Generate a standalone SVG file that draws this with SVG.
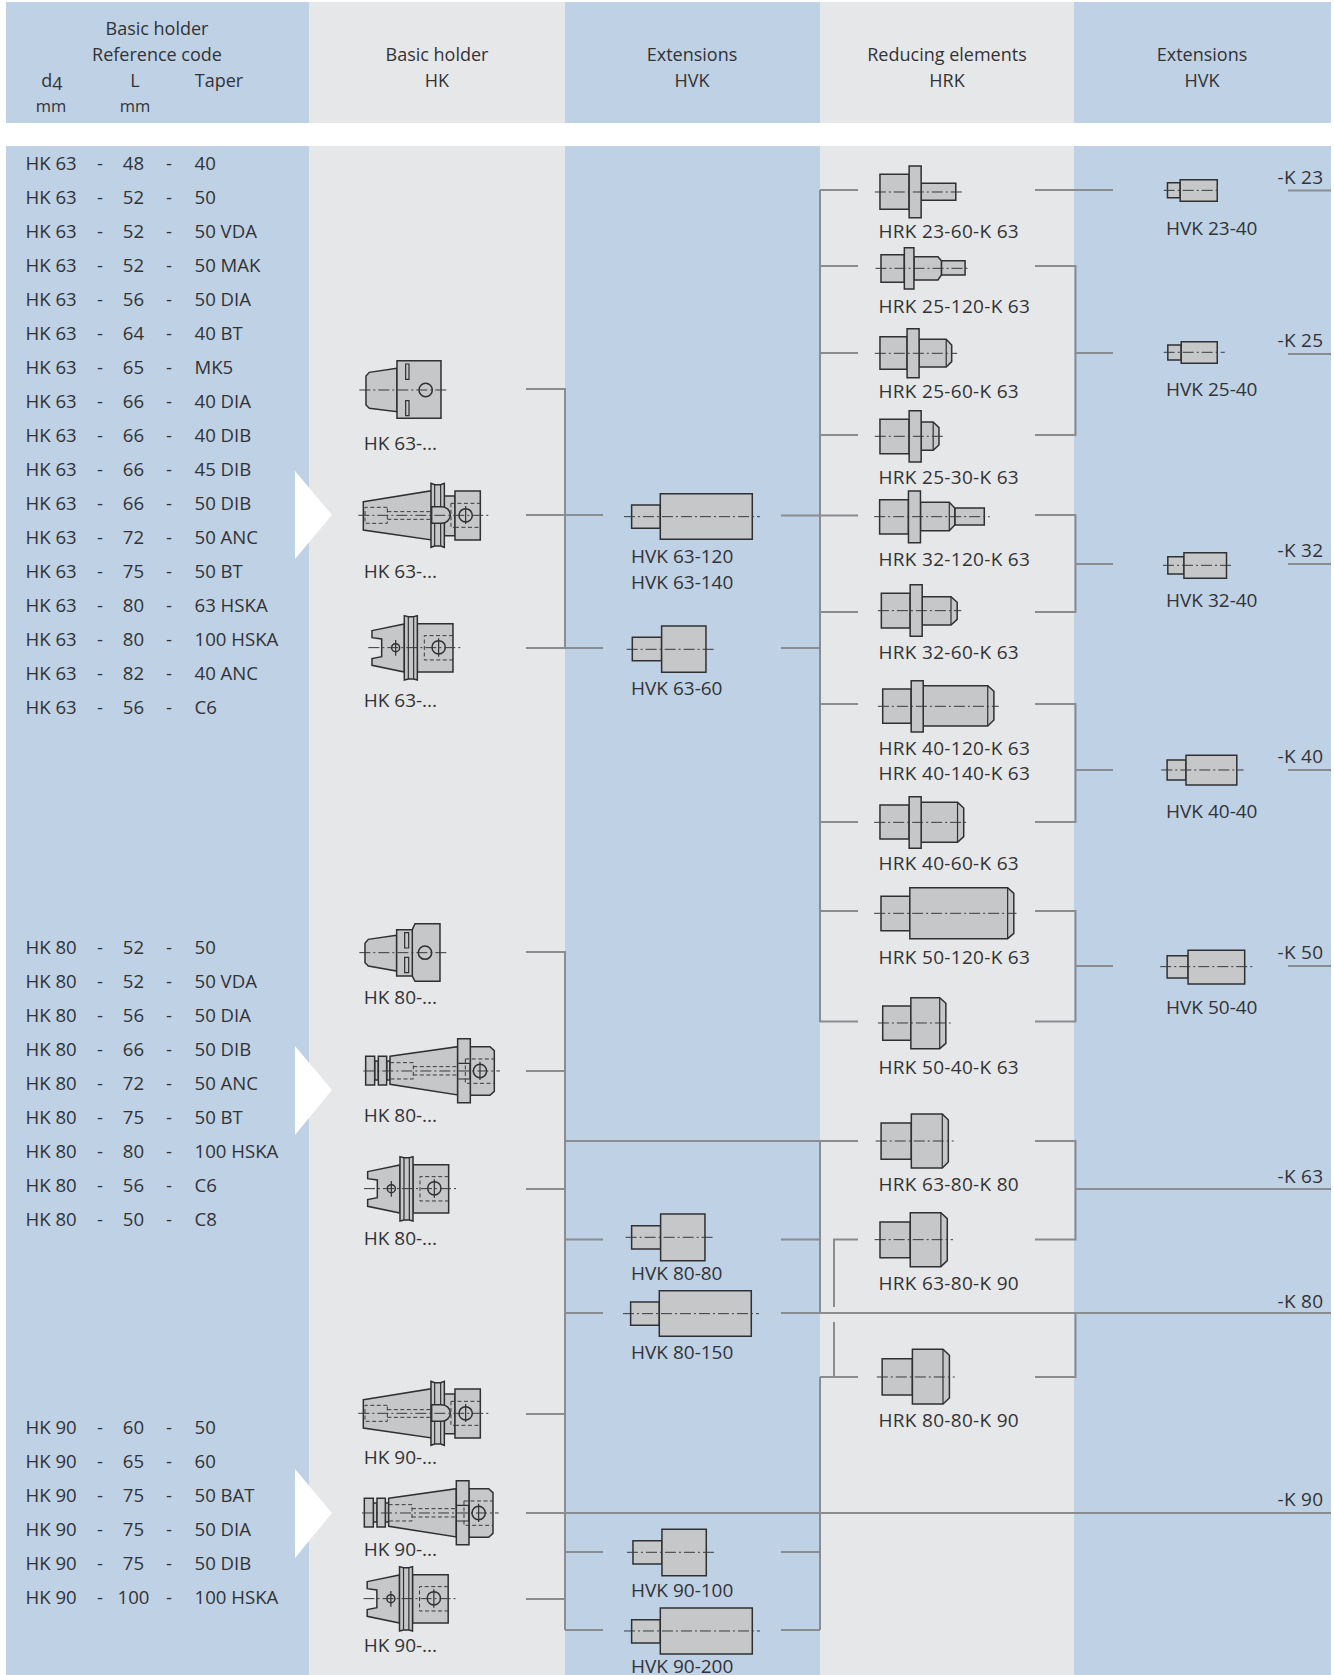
<svg xmlns="http://www.w3.org/2000/svg" xmlns:xlink="http://www.w3.org/1999/xlink" width="1334" height="1675" viewBox="0 0 1334 1675">
<style>
text{font-family:"Open Sans","Noto Sans","Liberation Sans",sans-serif;font-size:19px;fill:#333336}
.h{font-size:18px}
.u{font-size:16.500px}
.t{font-size:18.600px}
.r{letter-spacing:.3px}
.m{text-anchor:middle}
.bl{fill:#bed1e5}.gr{fill:#e6e7e9}
.s{fill:#c6c7c9;stroke:#303033;stroke-width:1.500;vector-effect:non-scaling-stroke;stroke-linejoin:miter}
.l{fill:none;stroke:#303033;stroke-width:1.200;vector-effect:non-scaling-stroke}
.c{fill:none;stroke:#3a3a3d;stroke-width:1;stroke-dasharray:11 3 2 3;vector-effect:non-scaling-stroke}
.d{fill:none;stroke:#3a3a3d;stroke-width:1;stroke-dasharray:4 2.500;vector-effect:non-scaling-stroke}
.w{fill:none;stroke:#8a8c8f;stroke-width:2}
</style>
<defs>
<g id="hk-cat">
<path class="s" d="M250,485L455,452V600L250,570Z"/>
<rect class="s" x="493" y="468" width="32" height="119"/>
<rect class="s" x="525" y="453" width="76" height="147"/>
<path class="s" d="M453,430L464,434H482L493,430V622L482,618H464L453,622Z"/>
<path class="l" d="M464,434V618M482,434V618"/>
<path class="s" d="M455,500H485A26,25 0 0 1 485,550H455Z"/>
<path class="d" d="M322,502H255V550H322ZM322,515H455M322,538H455M513,490H601M513,490V562H525M525,562H601"/>
<circle class="s" cx="557" cy="526" r="20"/>
<path class="l" d="M557,498V552"/>
<path class="c" d="M235,526H628"/>
</g>
<g id="hk-hsk">
<path class="s" d="M276,872L373,852V996L276,976V956L305,950V897L276,893Z"/>
<rect class="s" x="412" y="851" width="107" height="145"/>
<path class="s" d="M373,827L385,830H401L412,827V1020L401,1017H385L373,1020Z"/>
<path class="l" d="M385,830V1017M401,830V1017"/>
<path class="d" d="M519,887H433V960H519"/>
<circle class="s" cx="476" cy="922" r="20"/>
<circle class="s" cx="347" cy="923" r="12"/>
<path class="l" d="M476,895V950M347,900V947"/>
<path class="c" d="M265,923H545"/>
</g>
<g id="hk-din">
<rect class="s" x="284" y="483" width="11" height="57"/>
<rect class="s" x="320" y="483" width="10" height="57"/>
<rect class="s" x="257" y="469" width="27" height="86"/>
<rect class="s" x="295" y="469" width="25" height="86"/>
<path class="s" d="M330,469L533,440V585L330,553Z"/>
<path class="s" d="M571,440H630L643,452V574L630,586H571Z"/>
<rect class="s" x="533" y="416" width="38" height="192"/>
<path class="d" d="M330,488H400V537H330M400,500H533M400,525H533"/>
<path class="l" d="M535,490H570V537H535"/>
<path class="d" d="M556,477H643M556,477V550H643"/>
<circle class="s" cx="600" cy="513" r="20"/>
<path class="l" d="M600,485V540"/>
<path class="c" d="M250,513H660"/>
</g>
</defs>

<g id="background">
<rect class="bl" x="6" y="2" width="303" height="121"/>
<rect class="gr" x="309" y="2" width="256" height="121"/>
<rect class="bl" x="565" y="2" width="255" height="121"/>
<rect class="gr" x="820" y="2" width="254" height="121"/>
<rect class="bl" x="1074" y="2" width="257" height="121"/>
<rect class="bl" x="6" y="146" width="303" height="1529"/>
<rect class="gr" x="309" y="146" width="256" height="1529"/>
<rect class="bl" x="565" y="146" width="255" height="1529"/>
<rect class="gr" x="820" y="146" width="254" height="1529"/>
<rect class="bl" x="1074" y="146" width="257" height="1529"/>
<path fill="#fff" d="M295,471L332,515L295,559ZM295,1046L332,1090L295,1135ZM295,1469L332,1513L295,1558Z"/>
</g>

<g id="headers" class="h">
<text class="h m" x="157" y="35">Basic holder</text>
<text class="h m" x="157" y="61">Reference code</text>
<text class="h m" x="52" y="87">d<tspan dy="3">4</tspan></text>
<text class="h m" x="135" y="87">L</text>
<text class="h m" x="219" y="87">Taper</text>
<text class="u m" x="51" y="112">mm</text>
<text class="u m" x="135" y="112">mm</text>
<text class="h m" x="437" y="61">Basic holder</text>
<text class="h m" x="437" y="87">HK</text>
<text class="h m" x="692" y="61">Extensions</text>
<text class="h m" x="692" y="87">HVK</text>
<text class="h m" x="947" y="61">Reducing elements</text>
<text class="h m" x="947" y="87">HRK</text>
<text class="h m" x="1202" y="61">Extensions</text>
<text class="h m" x="1202" y="87">HVK</text>
</g>

<g id="table">
<text class="t" y="170"><tspan x="25.500">HK 63</tspan><tspan x="97">-</tspan><tspan x="133.500" class="m">48</tspan><tspan x="166">-</tspan><tspan x="194.500">40</tspan></text>
<text class="t" y="204"><tspan x="25.500">HK 63</tspan><tspan x="97">-</tspan><tspan x="133.500" class="m">52</tspan><tspan x="166">-</tspan><tspan x="194.500">50</tspan></text>
<text class="t" y="238"><tspan x="25.500">HK 63</tspan><tspan x="97">-</tspan><tspan x="133.500" class="m">52</tspan><tspan x="166">-</tspan><tspan x="194.500">50 VDA</tspan></text>
<text class="t" y="272"><tspan x="25.500">HK 63</tspan><tspan x="97">-</tspan><tspan x="133.500" class="m">52</tspan><tspan x="166">-</tspan><tspan x="194.500">50 MAK</tspan></text>
<text class="t" y="306"><tspan x="25.500">HK 63</tspan><tspan x="97">-</tspan><tspan x="133.500" class="m">56</tspan><tspan x="166">-</tspan><tspan x="194.500">50 DIA</tspan></text>
<text class="t" y="340"><tspan x="25.500">HK 63</tspan><tspan x="97">-</tspan><tspan x="133.500" class="m">64</tspan><tspan x="166">-</tspan><tspan x="194.500">40 BT</tspan></text>
<text class="t" y="374"><tspan x="25.500">HK 63</tspan><tspan x="97">-</tspan><tspan x="133.500" class="m">65</tspan><tspan x="166">-</tspan><tspan x="194.500">MK5</tspan></text>
<text class="t" y="407.700"><tspan x="25.500">HK 63</tspan><tspan x="97">-</tspan><tspan x="133.500" class="m">66</tspan><tspan x="166">-</tspan><tspan x="194.500">40 DIA</tspan></text>
<text class="t" y="441.700"><tspan x="25.500">HK 63</tspan><tspan x="97">-</tspan><tspan x="133.500" class="m">66</tspan><tspan x="166">-</tspan><tspan x="194.500">40 DIB</tspan></text>
<text class="t" y="475.600"><tspan x="25.500">HK 63</tspan><tspan x="97">-</tspan><tspan x="133.500" class="m">66</tspan><tspan x="166">-</tspan><tspan x="194.500">45 DIB</tspan></text>
<text class="t" y="509.500"><tspan x="25.500">HK 63</tspan><tspan x="97">-</tspan><tspan x="133.500" class="m">66</tspan><tspan x="166">-</tspan><tspan x="194.500">50 DIB</tspan></text>
<text class="t" y="543.500"><tspan x="25.500">HK 63</tspan><tspan x="97">-</tspan><tspan x="133.500" class="m">72</tspan><tspan x="166">-</tspan><tspan x="194.500">50 ANC</tspan></text>
<text class="t" y="577.800"><tspan x="25.500">HK 63</tspan><tspan x="97">-</tspan><tspan x="133.500" class="m">75</tspan><tspan x="166">-</tspan><tspan x="194.500">50 BT</tspan></text>
<text class="t" y="611.800"><tspan x="25.500">HK 63</tspan><tspan x="97">-</tspan><tspan x="133.500" class="m">80</tspan><tspan x="166">-</tspan><tspan x="194.500">63 HSKA</tspan></text>
<text class="t" y="646.300"><tspan x="25.500">HK 63</tspan><tspan x="97">-</tspan><tspan x="133.500" class="m">80</tspan><tspan x="166">-</tspan><tspan x="194.500">100 HSKA</tspan></text>
<text class="t" y="680.300"><tspan x="25.500">HK 63</tspan><tspan x="97">-</tspan><tspan x="133.500" class="m">82</tspan><tspan x="166">-</tspan><tspan x="194.500">40 ANC</tspan></text>
<text class="t" y="714.300"><tspan x="25.500">HK 63</tspan><tspan x="97">-</tspan><tspan x="133.500" class="m">56</tspan><tspan x="166">-</tspan><tspan x="194.500">C6</tspan></text>
<text class="t" y="954"><tspan x="25.500">HK 80</tspan><tspan x="97">-</tspan><tspan x="133.500" class="m">52</tspan><tspan x="166">-</tspan><tspan x="194.500">50</tspan></text>
<text class="t" y="988"><tspan x="25.500">HK 80</tspan><tspan x="97">-</tspan><tspan x="133.500" class="m">52</tspan><tspan x="166">-</tspan><tspan x="194.500">50 VDA</tspan></text>
<text class="t" y="1022"><tspan x="25.500">HK 80</tspan><tspan x="97">-</tspan><tspan x="133.500" class="m">56</tspan><tspan x="166">-</tspan><tspan x="194.500">50 DIA</tspan></text>
<text class="t" y="1055.900"><tspan x="25.500">HK 80</tspan><tspan x="97">-</tspan><tspan x="133.500" class="m">66</tspan><tspan x="166">-</tspan><tspan x="194.500">50 DIB</tspan></text>
<text class="t" y="1089.800"><tspan x="25.500">HK 80</tspan><tspan x="97">-</tspan><tspan x="133.500" class="m">72</tspan><tspan x="166">-</tspan><tspan x="194.500">50 ANC</tspan></text>
<text class="t" y="1123.800"><tspan x="25.500">HK 80</tspan><tspan x="97">-</tspan><tspan x="133.500" class="m">75</tspan><tspan x="166">-</tspan><tspan x="194.500">50 BT</tspan></text>
<text class="t" y="1157.700"><tspan x="25.500">HK 80</tspan><tspan x="97">-</tspan><tspan x="133.500" class="m">80</tspan><tspan x="166">-</tspan><tspan x="194.500">100 HSKA</tspan></text>
<text class="t" y="1191.700"><tspan x="25.500">HK 80</tspan><tspan x="97">-</tspan><tspan x="133.500" class="m">56</tspan><tspan x="166">-</tspan><tspan x="194.500">C6</tspan></text>
<text class="t" y="1225.600"><tspan x="25.500">HK 80</tspan><tspan x="97">-</tspan><tspan x="133.500" class="m">50</tspan><tspan x="166">-</tspan><tspan x="194.500">C8</tspan></text>
<text class="t" y="1434.400"><tspan x="25.500">HK 90</tspan><tspan x="97">-</tspan><tspan x="133.500" class="m">60</tspan><tspan x="166">-</tspan><tspan x="194.500">50</tspan></text>
<text class="t" y="1468.400"><tspan x="25.500">HK 90</tspan><tspan x="97">-</tspan><tspan x="133.500" class="m">65</tspan><tspan x="166">-</tspan><tspan x="194.500">60</tspan></text>
<text class="t" y="1502.300"><tspan x="25.500">HK 90</tspan><tspan x="97">-</tspan><tspan x="133.500" class="m">75</tspan><tspan x="166">-</tspan><tspan x="194.500">50 BAT</tspan></text>
<text class="t" y="1536.300"><tspan x="25.500">HK 90</tspan><tspan x="97">-</tspan><tspan x="133.500" class="m">75</tspan><tspan x="166">-</tspan><tspan x="194.500">50 DIA</tspan></text>
<text class="t" y="1570.200"><tspan x="25.500">HK 90</tspan><tspan x="97">-</tspan><tspan x="133.500" class="m">75</tspan><tspan x="166">-</tspan><tspan x="194.500">50 DIB</tspan></text>
<text class="t" y="1604.200"><tspan x="25.500">HK 90</tspan><tspan x="97">-</tspan><tspan x="133.500" class="m">100</tspan><tspan x="166">-</tspan><tspan x="194.500">100 HSKA</tspan></text>
</g>

<g id="connectors">
<path class="w" d="M526,389H565V648M526,515H603M526,648H603"/>
<path class="w" d="M526,952H565V1630M526,1071H565M526,1189H565M565,1141H858M565,1239.500H603M565,1313H603"/>
<path class="w" d="M526,1414H565M526,1513H1331M526,1599H565M565,1552H603M565,1630H603"/>
<path class="w" d="M781,515.500H858M781,648H820M820,190V1022M820,190H858M820,266H858M820,353H858M820,435H858M820,612H858M820,704H858M820,822H858M820,911H858M820,1021.500H858"/>
<path class="w" d="M781,1239.500H820M820,1141V1313M781,1313H1331M858,1239.500H834V1307M834,1322V1377M820,1377H858M820,1377V1630M781,1552H820M781,1630H820"/>
<path class="w" d="M1035,190H1113M1035,266H1075.500V435H1035M1075.500,353H1113M1035,515H1075.500V612H1035M1075.500,564H1113M1035,704H1075.500V822H1035M1075.500,770H1113M1035,911H1075.500V1021.500H1035M1075.500,966H1113"/>
<path class="w" d="M1035,1141H1075.500V1239.500H1035M1075.500,1189H1331M1075.500,1313V1377H1035"/>
<path class="w" d="M1288,190.500H1331M1288,354H1331M1288,564H1331M1288,770H1331M1288,966H1331"/>
</g>

<g id="k-labels">
<text class="r" x="1277.500" y="183.500">-K 23</text>
<text class="r" x="1277.500" y="347">-K 25</text>
<text class="r" x="1277.500" y="557">-K 32</text>
<text class="r" x="1277.500" y="763">-K 40</text>
<text class="r" x="1277.500" y="959">-K 50</text>
<text class="r" x="1277.500" y="1183">-K 63</text>
<text class="r" x="1277.500" y="1308">-K 80</text>
<text class="r" x="1277.500" y="1506">-K 90</text>
</g>

<g id="hk63a"><g transform="translate(280,340) scale(.3333)">
<path class="s" d="M351,85L268,97L258,108V195L268,205L351,215Z"/>
<rect class="s" x="351" y="62" width="132" height="173"/>
<rect class="l" x="377" y="72" width="10" height="46"/>
<rect class="l" x="377" y="182" width="10" height="45"/>
<circle class="s" cx="437" cy="150" r="20"/>
<path class="c" d="M238,150H503"/></g>
<text x="363.700" y="450">HK 63-...</text></g>

<g id="hk63b"><use href="#hk-cat" transform="translate(280,340) scale(.3333)"/><text x="363.700" y="578">HK 63-...</text></g>
<g id="hk63c"><use href="#hk-hsk" transform="translate(280,340) scale(.3333)"/><text x="363.700" y="706.700">HK 63-...</text></g>

<g id="hk80a"><g transform="translate(280,900) scale(.3333)">
<path class="s" d="M350,106L265,118L255,130V188L265,198L350,213Z"/>
<rect class="s" x="350" y="89" width="55" height="139"/>
<path class="s" d="M397,89L405,71H480V244H405L397,228Z"/>
<rect class="l" x="374" y="98" width="12" height="46"/>
<rect class="l" x="374" y="172" width="12" height="46"/>
<circle class="s" cx="435" cy="158" r="20"/>
<path class="c" d="M238,158H500"/></g>
<text x="363.700" y="1004">HK 80-...</text></g>
<g id="hk80b"><use href="#hk-din" transform="translate(280,900) scale(.3333)"/><text x="363.700" y="1122">HK 80-...</text></g>
<g id="hk80c"><use href="#hk-hsk" transform="translate(275.670,881) scale(.3333)"/><text x="363.700" y="1245">HK 80-...</text></g>

<g id="hk90a"><use href="#hk-cat" transform="translate(280,1238) scale(.3333)"/><text x="363.700" y="1464">HK 90-...</text></g>
<g id="hk90b"><use href="#hk-din" transform="translate(278.670,1342) scale(.3333)"/><text x="363.700" y="1556">HK 90-...</text></g>
<g id="hk90c"><use href="#hk-hsk" transform="translate(275.200,1291) scale(.3333)"/><text x="363.700" y="1652">HK 90-...</text></g>

<g id="hvk63-120"><g transform="translate(280,340) scale(.3333)">
<rect class="s" x="1055" y="495" width="86" height="70"/><rect class="s" x="1141" y="461" width="276" height="137"/><path class="c" d="M1032,530H1440"/></g>
<text x="631" y="562.700">HVK 63-120</text><text x="631" y="588.700">HVK 63-140</text></g>
<g id="hvk63-60"><g transform="translate(280,340) scale(.3333)">
<rect class="s" x="1057" y="892" width="88" height="70"/><rect class="s" x="1145" y="858" width="133" height="139"/><path class="c" d="M1040,928H1302"/></g>
<text x="631" y="694.700">HVK 63-60</text></g>
<g id="hvk80-80"><g transform="translate(280,900) scale(.3333)">
<rect class="s" x="1055" y="977" width="87" height="70"/><rect class="s" x="1142" y="942" width="133" height="140"/><path class="c" d="M1037,1012H1298"/></g>
<text x="631" y="1279.700">HVK 80-80</text></g>
<g id="hvk80-150"><g transform="translate(279,1137) scale(.3333)">
<rect class="s" x="1055" y="495" width="86" height="70"/><rect class="s" x="1141" y="461" width="276" height="137"/><path class="c" d="M1032,530H1440"/></g>
<text x="631" y="1359">HVK 80-150</text></g>
<g id="hvk90-100"><g transform="translate(280,1340) scale(.3333)">
<rect class="s" x="1059" y="602" width="87" height="70"/><rect class="s" x="1146" y="568" width="133" height="139"/><path class="c" d="M1041,637H1303"/></g>
<text x="631" y="1596.700">HVK 90-100</text></g>
<g id="hvk90-200"><g transform="translate(280,1340) scale(.3333)">
<rect class="s" x="1055" y="839" width="86" height="70"/><rect class="s" x="1141" y="804" width="276" height="138"/><path class="c" d="M1032,873H1440"/></g>
<text x="631" y="1672.700">HVK 90-200</text></g>

<g id="hrk23-60"><g transform="translate(800,140) scale(.3432,.3333)">
<rect class="s" x="233" y="103" width="85" height="105"/><rect class="s" x="353" y="130" width="101" height="51"/><rect class="s" x="318" y="78" width="35" height="155"/><path class="c" d="M218,156H473"/></g>
<text class="r" x="878.500" y="237.700">HRK 23-60-K 63</text></g>
<g id="hrk25-120"><g transform="translate(800,140) scale(.3432,.3333)">
<rect class="s" x="236" y="344" width="68" height="83"/><rect class="s" x="412" y="362" width="69" height="43"/><path class="s" d="M332,350H402L412,362V405L402,420H332Z"/><rect class="s" x="304" y="323" width="28" height="124"/><path class="c" d="M220,385H493"/></g>
<text class="r" x="878.500" y="312.700">HRK 25-120-K 63</text></g>
<g id="hrk25-60"><g transform="translate(800,140) scale(.3432,.3333)">
<rect class="s" x="233" y="590" width="79" height="98"/><path class="s" d="M347,598H426L442,615V665L426,681H347Z"/><path class="l" d="M426,598V681"/><rect class="s" x="312" y="566" width="35" height="147"/><path class="c" d="M218,640H458"/></g>
<text class="r" x="878.500" y="398.300">HRK 25-60-K 63</text></g>
<g id="hrk25-30"><g transform="translate(800,140) scale(.3432,.3333)">
<rect class="s" x="233" y="838" width="85" height="103"/><path class="s" d="M353,846H388L405,863V915L388,931H353Z"/><path class="l" d="M388,846V931"/><rect class="s" x="318" y="812" width="35" height="154"/><path class="c" d="M218,889H423"/></g>
<text class="r" x="878.500" y="484">HRK 25-30-K 63</text></g>
<g id="hrk32-120"><g transform="translate(800,480) scale(.3432,.3333)">
<rect class="s" x="232" y="59" width="84" height="103"/><rect class="s" x="451" y="84" width="86" height="51"/><path class="s" d="M351,67H435L451,84V135L435,152H351Z"/><path class="l" d="M435,67V152"/><rect class="s" x="316" y="33" width="35" height="155"/><path class="c" d="M216,110H553"/></g>
<text class="r" x="878.500" y="566">HRK 32-120-K 63</text></g>
<g id="hrk32-60"><g transform="translate(800,480) scale(.3432,.3333)">
<rect class="s" x="237" y="340" width="84" height="104"/><path class="s" d="M356,350H440L458,367V418L440,435H356Z"/><path class="l" d="M440,350V435"/><rect class="s" x="321" y="314" width="35" height="155"/><path class="c" d="M227,392H470"/></g>
<text class="r" x="878.500" y="659">HRK 32-60-K 63</text></g>
<g id="hrk40-120"><g transform="translate(800,480) scale(.3432,.3333)">
<rect class="s" x="241" y="627" width="83" height="103"/><path class="s" d="M359,617H547L565,634V720L547,738H359Z"/><path class="l" d="M547,617V738"/><rect class="s" x="324" y="602" width="35" height="154"/><path class="c" d="M227,679H579"/></g>
<text class="r" x="878.500" y="755">HRK 40-120-K 63</text><text class="r" x="878.500" y="779.700">HRK 40-140-K 63</text></g>
<g id="hrk40-60"><g transform="translate(800,820) scale(.3432,.3333)">
<rect class="s" x="233" y="-45" width="85" height="102"/><path class="s" d="M353,-53H459L477,-36V50L459,67H353Z"/><path class="l" d="M459,-53V67"/><rect class="s" x="318" y="-70" width="35" height="155"/><path class="c" d="M216,7H487"/></g>
<text class="r" x="878.500" y="870">HRK 40-60-K 63</text></g>
<g id="hrk50-120"><g transform="translate(800,820) scale(.3432,.3333)">
<rect class="s" x="236" y="229" width="84" height="103"/><path class="s" d="M320,203H605L623,220V340L605,356H320Z"/><path class="l" d="M605,203V356"/><path class="c" d="M216,280H631"/></g>
<text class="r" x="878.500" y="964">HRK 50-120-K 63</text></g>
<g id="hrk50-40"><g transform="translate(800,820) scale(.3432,.3333)">
<rect class="s" x="241" y="558" width="82" height="103"/><path class="s" d="M323,533H407L425,550V670L407,686H323Z"/><path class="l" d="M407,533V686"/><path class="c" d="M227,609H439"/></g>
<text class="r" x="878.500" y="1074">HRK 50-40-K 63</text></g>
<g id="hrk63-80-k80"><g transform="translate(780,1100) scale(.3559,.3333)">
<rect class="s" x="284" y="69" width="85" height="109"/><path class="s" d="M369,42H456L473,60V186L456,204H369Z"/><path class="l" d="M456,42V204"/><path class="c" d="M269,123H488"/></g>
<text class="r" x="878.500" y="1190.700">HRK 63-80-K 80</text></g>
<g id="hrk63-80-k90"><g transform="translate(780,1100) scale(.3559,.3333)">
<rect class="s" x="281" y="366" width="85" height="107"/><path class="s" d="M366,338H452L470,356V482L452,500H366Z"/><path class="l" d="M452,338V500"/><path class="c" d="M266,419H486"/></g>
<text class="r" x="878.500" y="1290">HRK 63-80-K 90</text></g>
<g id="hrk80-80-k90"><g transform="translate(780,1100) scale(.3559,.3333)">
<rect class="s" x="287" y="776" width="85" height="109"/><path class="s" d="M372,748H458L476,766V894L458,912H372Z"/><path class="l" d="M458,748V912"/><path class="c" d="M272,831H491"/></g>
<text class="r" x="878.500" y="1426.700">HRK 80-80-K 90</text></g>

<g id="hvk23-40"><g transform="translate(797.500,140) scale(.3432,.3333)">
<rect class="s" x="1078" y="128" width="37" height="45"/><rect class="s" x="1115" y="119" width="108" height="65"/><path class="c" d="M1067,151H1230"/></g>
<text x="1166" y="235">HVK 23-40</text></g>
<g id="hvk25-40"><g transform="translate(797.500,140) scale(.3432,.3333)">
<rect class="s" x="1079" y="615" width="39" height="45"/><rect class="s" x="1118" y="605" width="105" height="65"/><path class="c" d="M1067,637H1245"/></g>
<text x="1166" y="396">HVK 25-40</text></g>
<g id="hvk32-40"><g transform="translate(797.500,480) scale(.3432,.3333)">
<rect class="s" x="1079" y="230" width="47" height="52"/><rect class="s" x="1126" y="218" width="124" height="77"/><path class="c" d="M1065,256H1268"/></g>
<text x="1166" y="606.700">HVK 32-40</text></g>
<g id="hvk40-40"><g transform="translate(797.500,480) scale(.3432,.3333)">
<rect class="s" x="1077" y="840" width="55" height="60"/><rect class="s" x="1132" y="826" width="148" height="89"/><path class="c" d="M1060,870H1300"/></g>
<text x="1166" y="817.700">HVK 40-40</text></g>
<g id="hvk50-40"><g transform="translate(797.500,820) scale(.3432,.3333)">
<rect class="s" x="1077" y="407" width="61" height="67"/><rect class="s" x="1138" y="391" width="165" height="101"/><path class="c" d="M1057,440H1332"/></g>
<text x="1166" y="1014">HVK 50-40</text></g>
</svg>
